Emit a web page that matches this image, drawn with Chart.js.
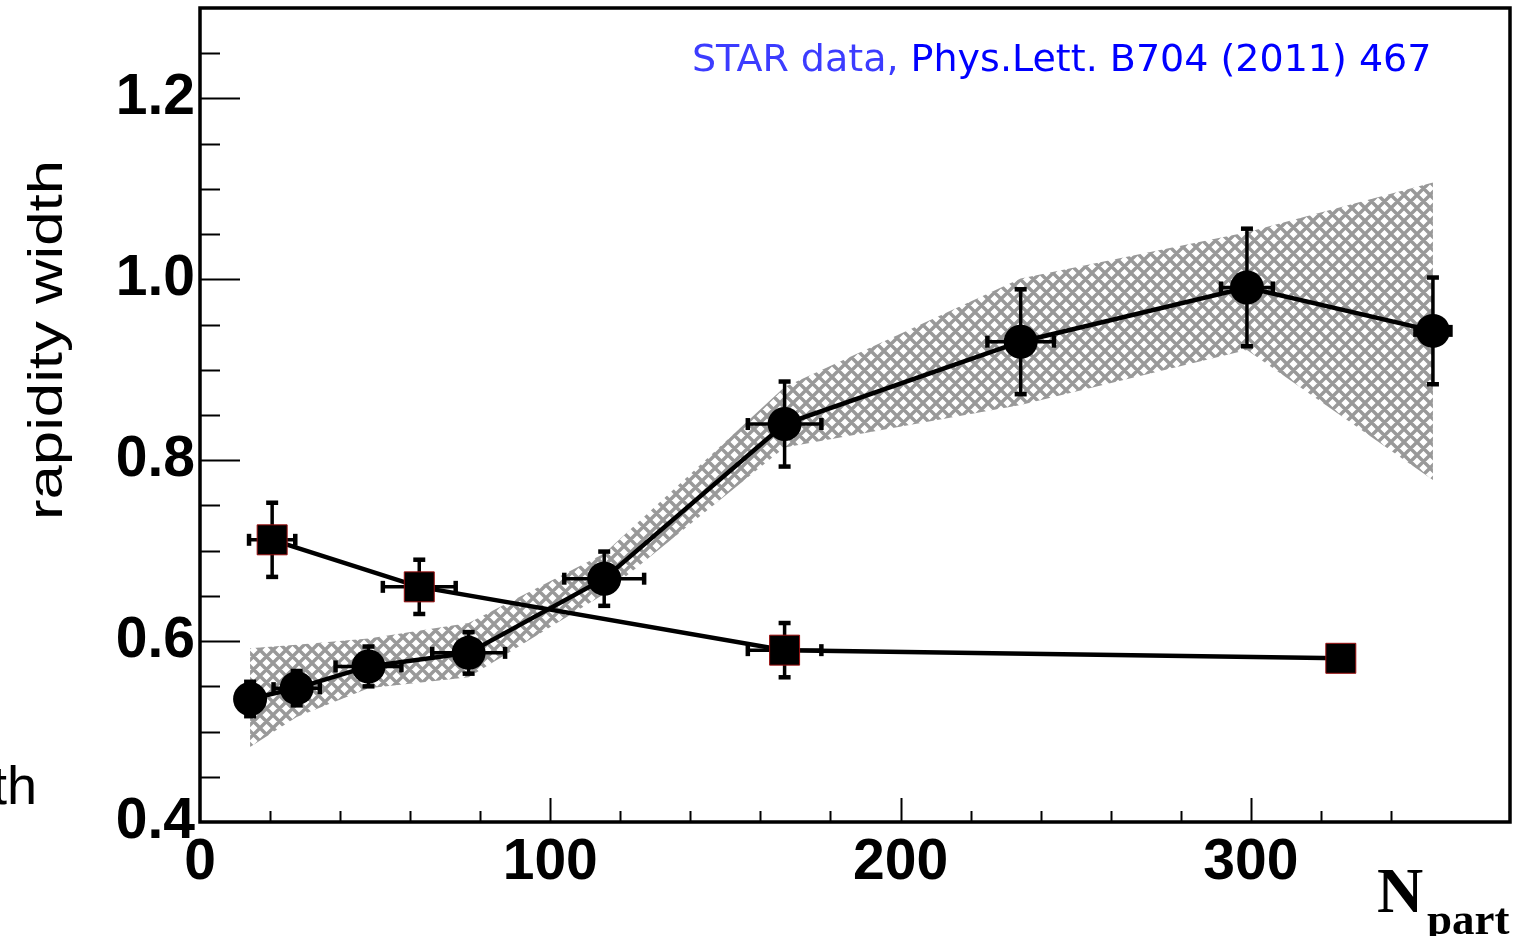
<!DOCTYPE html>
<html>
<head>
<meta charset="utf-8">
<script src="https://cdn.jsdelivr.net/npm/chart.js@4.4.0/dist/chart.umd.min.js"></script>
<style>
    html, body { margin: 0; padding: 0; background: #fff; }
    #wrap { width: 1522px; height: 936px; }
</style>
</head>
<body>
<div id="wrap"><canvas id="widthChart" width="1522" height="936"></canvas></div>
<script>
// Data
const npartCircle = [14.3, 27.6, 48.1, 76.7, 115.4, 166.9, 234.3, 298.9, 352.0];
const widthCircle = [0.536, 0.548, 0.572, 0.587, 0.669, 0.840, 0.931, 0.991, 0.943];
const errXCircle = [3, 6.6, 9.4, 10.4, 11.4, 10.5, 9.5, 7.4, 5];
const errYCircle = [0.019, 0.019, 0.022, 0.023, 0.030, 0.047, 0.058, 0.065, 0.059];

const npartSquare = [20.6, 62.6, 166.9, 325.7];
const widthSquare = [0.712, 0.660, 0.590, 0.581];
const errXSquare = [6.6, 10.4, 10.5, 3];
const errYSquare = [0.041, 0.030, 0.030, 0.01];

const bandHigh = [0.592, 0.596, 0.603, 0.620, 0.697, 0.881, 1.001, 1.052, 1.107];
const bandLow = [0.483, 0.516, 0.548, 0.560, 0.652, 0.814, 0.861, 0.922, 0.778];

const toPoints = (xs, ys) => xs.map((x, i) => ({ x: x, y: ys[i] }));

// hatched fill for the band
function makeHatch() {
    const n = 13;
    const c = document.createElement("canvas");
    c.width = n;
    c.height = n;
    const g = c.getContext("2d");
    g.fillStyle = "#fff";
    g.fillRect(0, 0, n, n);
    g.strokeStyle = "#999";
    g.lineWidth = 3.4;
    g.beginPath();
    for (let k = -1; k <= 1; k++) {
        g.moveTo(-n / 2 + k * n, n + n / 2);
        g.lineTo(n + n / 2 + k * n, -n / 2);
        g.moveTo(-n / 2 + k * n, -n / 2);
        g.lineTo(n + n / 2 + k * n, n + n / 2);
    }
    g.stroke();
    return g.createPattern(c, "repeat");
}

const errorBars = {
    id: "errorBars",
    beforeDatasetDraw(chart, args) {
        if (args.index !== 1) return;
        const { ctx } = chart;
        const xs = chart.scales.x;
        const ys = chart.scales.y;
        ctx.save();
        ctx.strokeStyle = "#000";
        const seg = (x1, y1, x2, y2) => {
            ctx.beginPath();
            ctx.moveTo(x1, y1);
            ctx.lineTo(x2, y2);
            ctx.stroke();
        };
        [0, 1].forEach((i) => {
            const ds = chart.data.datasets[i];
            ds.data.forEach((p, k) => {
                const px = xs.getPixelForValue(p.x);
                const py = ys.getPixelForValue(p.y);
                const xl = xs.getPixelForValue(p.x - ds.errX[k]);
                const xr = xs.getPixelForValue(p.x + ds.errX[k]);
                const yt = ys.getPixelForValue(p.y + ds.errY[k]);
                const yb = ys.getPixelForValue(p.y - ds.errY[k]);
                ctx.lineWidth = 3.5;
                seg(xl, py, xr, py);
                seg(px, yt, px, yb);
                ctx.lineWidth = 4.5;
                seg(xl, py - 6, xl, py + 6);
                seg(xr, py - 6, xr, py + 6);
                seg(px - 6, yt, px + 6, yt);
                seg(px - 6, yb, px + 6, yb);
            });
        });
        ctx.restore();
    },
};

const frameAndTicks = {
    id: "frameAndTicks",
    afterDraw(chart) {
        const { ctx, chartArea: a } = chart;
        const xs = chart.scales.x;
        const ys = chart.scales.y;
        ctx.save();
        ctx.strokeStyle = "#000";
        ctx.lineWidth = 2;
        ys.ticks.forEach((t) => {
            if (t.value >= ys.max || t.value <= ys.min) return;
            const py = Math.round(ys.getPixelForValue(t.value)) + 0.5;
            const len = t.label ? 40 : 20;
            ctx.beginPath();
            ctx.moveTo(a.left, py);
            ctx.lineTo(a.left + len, py);
            ctx.stroke();
        });
        xs.ticks.forEach((t) => {
            if (t.value <= xs.min || Math.round(t.value) % 20 !== 0) return;
            const px = Math.round(xs.getPixelForValue(t.value)) + 0.5;
            const len = t.label ? 24 : 11;
            ctx.beginPath();
            ctx.moveTo(px, a.bottom);
            ctx.lineTo(px, a.bottom - len);
            ctx.stroke();
        });
        ctx.lineWidth = 3.5;
        ctx.strokeRect(a.left, a.top, a.right - a.left, a.bottom - a.top);
        ctx.restore();
    },
};

const labels = {
    id: "labels",
    afterDraw(chart) {
        const { ctx } = chart;
        ctx.save();
        ctx.textBaseline = "alphabetic";

        // note at top
        ctx.font = "38px 'DejaVu Sans'";
        ctx.textAlign = "left";
        const first = "STAR data,";
        ctx.fillStyle = "#3c3cff";
        ctx.fillText(first, 692, 71);
        const w = ctx.measureText(first + " ").width;
        ctx.fillStyle = "#0000ff";
        ctx.fillText("Phys.Lett. B704 (2011) 467", 692 + w, 71);

        // y title
        ctx.fillStyle = "#000";
        ctx.font = "48px 'Liberation Sans'";
        const title = "rapidity width";
        const tw = ctx.measureText(title).width;
        ctx.save();
        ctx.translate(62, 340);
        ctx.rotate(-Math.PI / 2);
        ctx.scale(360 / tw, 1);
        ctx.textAlign = "center";
        ctx.fillText(title, 0, 0);
        ctx.restore();

        // clipped text from neighbouring panel
        ctx.textAlign = "right";
        ctx.font = "54px 'Liberation Sans'";
        ctx.fillText("th", 37, 804);

        // x title
        ctx.textAlign = "left";
        ctx.font = "bold 64px 'Liberation Serif'";
        ctx.fillText("N", 1377, 912);
        ctx.font = "bold 45px 'Liberation Serif'";
        ctx.fillText("part", 1427, 934);
        ctx.restore();
    },
};

const tickFont = { family: "'Liberation Sans', Arial, sans-serif", size: 57, weight: "bold" };

const ctx = document.getElementById("widthChart").getContext("2d");
new Chart(ctx, {
    type: "line",
    data: {
        datasets: [
            {
                label: "circles",
                data: toPoints(npartCircle, widthCircle),
                errX: errXCircle,
                errY: errYCircle,
                borderColor: "#000",
                borderWidth: 4.5,
                pointStyle: "circle",
                pointRadius: 17,
                pointBackgroundColor: "#000",
                pointBorderColor: "#000",
                pointBorderWidth: 0,
                tension: 0,
                fill: false,
            },
            {
                label: "squares",
                data: toPoints(npartSquare, widthSquare),
                errX: errXSquare,
                errY: errYSquare,
                borderColor: "#000",
                borderWidth: 4.5,
                pointStyle: "rect",
                pointRadius: 21.2,
                pointBackgroundColor: "#000",
                pointBorderColor: "#9b1010",
                pointBorderWidth: 1,
                tension: 0,
                fill: false,
            },
            {
                label: "band high",
                data: toPoints(npartCircle, bandHigh),
                borderColor: "rgba(0,0,0,0)",
                borderWidth: 0,
                pointRadius: 0,
                tension: 0,
                fill: "+1",
                backgroundColor: makeHatch(),
            },
            {
                label: "band low",
                data: toPoints(npartCircle, bandLow),
                borderColor: "rgba(0,0,0,0)",
                borderWidth: 0,
                pointRadius: 0,
                tension: 0,
                fill: false,
            },
        ],
    },
    options: {
        responsive: false,
        animation: false,
        events: [],
        layout: {
            autoPadding: false,
            padding: { top: 8, right: 12, left: 0, bottom: 0 },
        },
        plugins: {
            legend: { display: false },
            tooltip: { enabled: false },
        },
        scales: {
            x: {
                type: "linear",
                min: 0,
                max: 374,
                afterFit: (s) => {
                    s.height = 114;
                    s.paddingLeft = 0;
                    s.paddingRight = 0;
                },
                grid: { display: false, drawTicks: false },
                border: { display: false },
                ticks: {
                    stepSize: 20,
                    autoSkip: false,
                    maxRotation: 0,
                    padding: 7,
                    color: "#000",
                    font: tickFont,
                    callback: (v) => (Math.round(v) % 100 === 0 ? String(v) : ""),
                },
            },
            y: {
                type: "linear",
                min: 0.4,
                max: 1.3,
                afterFit: (s) => {
                    s.width = 200;
                    s.paddingTop = 0;
                    s.paddingBottom = 0;
                },
                grid: { display: false, drawTicks: false },
                border: { display: false },
                ticks: {
                    stepSize: 0.05,
                    autoSkip: false,
                    padding: 5,
                    color: "#000",
                    font: tickFont,
                    callback: (v) => (Math.round(v * 100) % 20 === 0 ? v.toFixed(1) : ""),
                },
            },
        },
    },
    plugins: [errorBars, frameAndTicks, labels],
});
</script>
</body>
</html>
